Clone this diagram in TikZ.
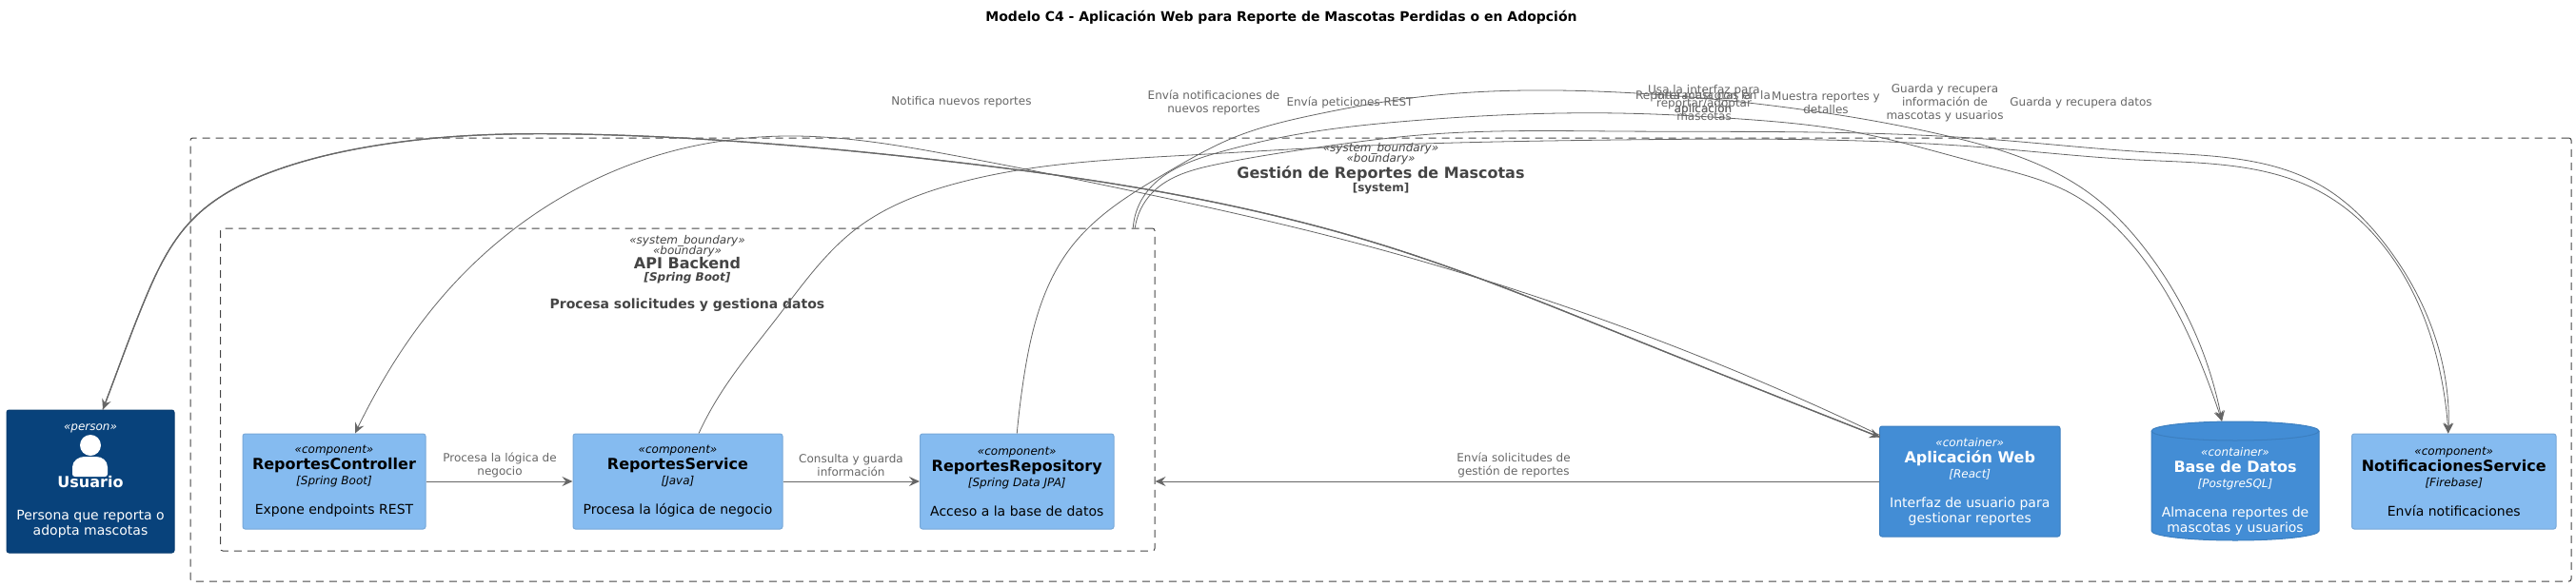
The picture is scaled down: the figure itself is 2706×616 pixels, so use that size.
\documentclass[tikz,border=0pt]{standalone}
\usepackage{fontspec}
\setmainfont{DejaVu Sans}
\usetikzlibrary{positioning}
\usetikzlibrary{hobby,arrows.meta}

\definecolor{personfill}{HTML}{08427B}
\definecolor{personline}{HTML}{073B6F}
\definecolor{containerfill}{HTML}{438DD5}
\definecolor{containerline}{HTML}{3C7FC0}
\definecolor{componentfill}{HTML}{85BBF0}
\definecolor{componentline}{HTML}{78A8D8}
\definecolor{relgray}{HTML}{666666}
\definecolor{boundgray}{HTML}{444444}

\newcommand{\fs}[1]{\fontsize{#1}{16}\selectfont}
\newcommand{\boxlines}[4]{{\fs{12}\itshape «#1»}\\[1pt]{\fs{16}\bfseries #2}\\{\fs{12}\itshape [#3]}\\[15pt]#4}

\tikzset{
  c4box/.style={line width=1pt, rounded corners=2.5pt, inner sep=0pt, align=center, font=\fs{14}},
  person/.style={c4box, draw=personline, fill=personfill, text=white},
  container/.style={c4box, draw=containerline, fill=containerfill, text=white},
  component/.style={c4box, draw=componentline, fill=componentfill, text=black},
  boundary/.style={draw=boundgray, line width=1pt, dash pattern=on 8pt off 6pt, rounded corners=2.5pt, inner sep=0pt},
  boundtext/.style={text=boundgray, align=center, inner sep=0pt},
  rel/.style={draw=relgray, line width=1pt, -{Stealth[length=11pt,width=10pt,inset=4pt]}},
  curve/.style={rel, use Hobby shortcut, line width=0.8pt},
  rellabel/.style={text=relgray, align=center, inner sep=0pt, font=\fontsize{12}{14}\selectfont}
}

\begin{document}
\begin{tikzpicture}[x=1pt,y=-1pt]
  \useasboundingbox (0,0) rectangle (2706,616);

  % Title
  \node[font=\fontsize{14}{16}\selectfont\bfseries, inner sep=0pt] (title) at (1346,18) {Modelo C4 - Aplicación Web para Reporte de Mascotas Perdidas o en Adopción};

  % Boundaries
  \node[boundary, minimum width=2501pt, minimum height=466pt] (sistema) at (1450.5,378) {};
  \node[boundary, minimum width=981.5pt, minimum height=339pt] (api) at (722.25,409.5) {};
  \node[boundtext] (sistematxt) at (1450.5,177.5) {{\fs{12}\itshape «system\_boundary»}\\[-1pt]{\fs{12}\itshape «boundary»}\\{\fs{16}\bfseries Gestión de Reportes de Mascotas}\\[1pt]{\fs{12}\bfseries [system]}};
  \node[boundtext] (apitxt) at (722,287.5) {{\fs{12}\itshape «system\_boundary»}\\[-1pt]{\fs{12}\itshape «boundary»}\\{\fs{16}\bfseries API Backend}\\[1pt]{\fs{12}\bfseries\itshape [Spring Boot]}\\[15pt]{\fs{14}\bfseries Procesa solicitudes y gestiona datos}};

  % Boxes
  \node[person, minimum width=176pt, minimum height=150pt] (usuario) at (95,506) {{\fs{12}\itshape «person»}\\[44pt]{\fs{16}\bfseries Usuario}\\[18pt]Persona que reporta o\\adopta mascotas};
  \node[component, minimum width=192pt, minimum height=100pt] (controller) at (351,506) {\boxlines{component}{ReportesController}{Spring Boot}{Expone endpoints REST}};
  \node[component, minimum width=220pt, minimum height=100pt] (service) at (712,506) {\boxlines{component}{ReportesService}{Java}{Procesa la lógica de negocio}};
  \node[component, minimum width=203.5pt, minimum height=100pt] (repository) at (1068.25,506) {\boxlines{component}{ReportesRepository}{Spring Data JPA}{Acceso a la base de datos}};
  \node[container, minimum width=189.5pt, minimum height=116pt] (web) at (2069.25,506) {\boxlines{container}{Aplicación Web}{React}{Interfaz de usuario para\\gestionar reportes}};
  \filldraw[draw=containerline, fill=containerfill, line width=1pt] (2260,453) -- (2260,558)
    .. controls (2260,563.5) and (2299.4,568) .. (2348,568) .. controls (2396.6,568) and (2436,563.5) .. (2436,558)
    -- (2436,453) .. controls (2436,447.5) and (2396.6,443) .. (2348,443) .. controls (2299.4,443) and (2260,447.5) .. (2260,453) -- cycle;
  \draw[containerline, line width=1pt] (2260,453) .. controls (2260,458.5) and (2299.4,463) .. (2348,463) .. controls (2396.6,463) and (2436,458.5) .. (2436,453);
  \node[minimum width=176pt, minimum height=125pt, inner sep=0pt] (bd) at (2348,505.5) {};
  \node[boundtext, text=white, font=\fs{14}] (bdtxt) at (2348,516) {\boxlines{container}{Base de Datos}{PostgreSQL}{Almacena reportes de\\mascotas y usuarios}};
  \node[component, minimum width=214.5pt, minimum height=100pt] (notificaciones) at (2577.75,506) {\boxlines{component}{NotificacionesService}{Firebase}{Envía notificaciones}};

  % Person icon
  \fill[white] (95,468) circle (11);
  \fill[white] (79,501) -- (110,501) .. controls (112,501) and (113,500) .. (113,498) -- (113,491)
    .. controls (113,484) and (107,480) .. (101,480) -- (89,480)
    .. controls (83,480) and (76,484) .. (76,491) -- (76,498) .. controls (76,500) and (77,501) .. (79,501) -- cycle;

  % Straight arrows
  \draw[rel] (controller) -- (service);
  \draw[rel] (service) -- (repository);
  \draw[rel] (web.west) -- (web.west -| api.east);

  % Curved arrows
  \draw[curve, line width=1.2pt] ([xshift=-94.5pt,yshift=-12pt]web.north) .. (1700,350) .. (1460,260) .. (1210,200) .. (1000,170) .. (765,148) .. (606,141) .. (485,143) .. (383,155) .. (287,180) .. (200,233) .. (153,313) .. (112,420) .. ([xshift=13pt]usuario.north);
  \draw[curve, line width=1.2pt] ([xshift=13pt]usuario.north) .. (112,420) .. (153,313) .. (200,233) .. (287,180) .. (383,155) .. (485,143) .. (606,141) .. (765,148) .. (1000,170) .. (1210,200) .. (1460,260) .. (1700,350) .. ([xshift=-94.5pt,yshift=-12pt]web.north);
  \draw[curve] ([xshift=-94.5pt,yshift=-10pt]web.north) .. (1700,342) .. (1400,249) .. (1200,203) .. (1000,163) .. (836,143) .. (702,160) .. (574,217) .. (478,297) .. (391,420) .. ([xshift=22pt]controller.north);
  \draw[curve] ([xshift=22pt]service.north) .. (753,420) .. (817,333) .. (900,240) .. (1000,194) .. (1250,163) .. (1393,155) .. (1700,147) .. (2085,155) .. (2245,168) .. (2438,202) .. (2505,260) .. (2565,400) .. ([xshift=-6pt]notificaciones.north);
  \draw[curve] (repository.north) .. (1075,400) .. (1125,260) .. (1228,180) .. (1295,145) .. (1384,120) .. (1482,103) .. (1700,97) .. (1892,115) .. (2046,143) .. (2200,207) .. (2252,260) .. (2324,400) .. ([xshift=-14pt]bd.north);
  \draw[curve] ([xshift=468pt]api.north) .. (1201,207) .. (1281,160) .. (1353,143) .. (1482,127) .. (1700,119) .. (1828,125) .. (1944,138) .. (2085,173) .. (2175,203) .. (2242,260) .. (2319,400) .. ([xshift=-14pt]bd.north);
  \draw[curve] ([xshift=470pt]api.north) .. (1210,203) .. (1277,173) .. (1384,155) .. (1491,142) .. (1700,138) .. (2085,146) .. (2258,160) .. (2438,195) .. (2508,260) .. (2569,400) .. ([xshift=-6pt]notificaciones.north);

  % Labels
  \node[rellabel] (lblnotifica) at (1010,107) {Notifica nuevos reportes};
  \node[rellabel] (lblenvia) at (1275,108) {Envía notificaciones de\\nuevos reportes};
  \node[rellabel] (lblrest) at (1418,108) {Envía peticiones REST};
  \node[rellabel] (lblusa) at (1790,108) {Usa la interfaz para\\reportar/adoptar\\mascotas};
  \node[rellabel] (lblreporta) at (1789,108) {Reporta mascotas en la\\aplicación};
  \node[rellabel] (lblinteractua) at (1789,108) {Interactúa con la\\aplicación};
  \node[rellabel] (lblmuestra) at (1918,108) {Muestra reportes y\\detalles};
  \node[rellabel] (lblguarda) at (2043,108) {Guarda y recupera\\información de\\mascotas y usuarios};
  \node[rellabel] (lbldatos) at (2186,108) {Guarda y recupera datos};
  \node[rellabel] (lblprocesa) at (525,489) {Procesa la lógica de\\negocio};
  \node[rellabel] (lblconsulta) at (894,489) {Consulta y guarda\\información};
  \node[rellabel] (lblsolicitudes) at (1590,489) {Envía solicitudes de\\gestión de reportes};
\end{tikzpicture}
\end{document}
